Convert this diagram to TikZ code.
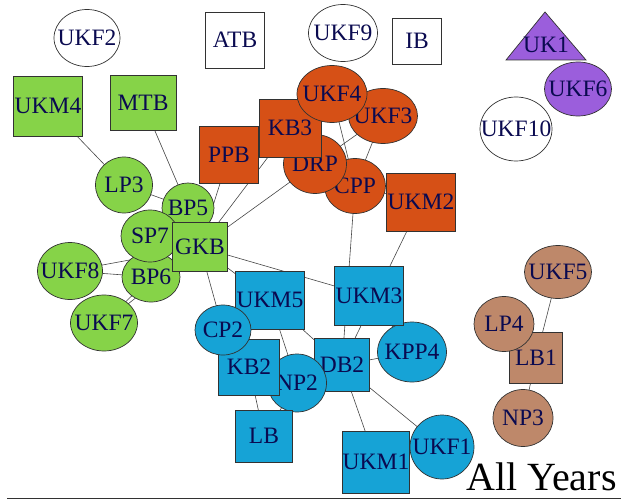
\documentclass[tikz,border=0pt]{standalone}
\usepackage{fontspec}
\setmainfont{Liberation Serif}
\usetikzlibrary{shapes.geometric,backgrounds}
\definecolor{grn}{RGB}{134,211,72}
\definecolor{org}{RGB}{214,80,22}
\definecolor{blu}{RGB}{22,163,214}
\definecolor{brn}{RGB}{190,136,106}
\definecolor{pur}{RGB}{155,94,220}
\definecolor{txt}{RGB}{10,10,80}
\definecolor{bord}{RGB}{50,50,50}
\definecolor{edgc}{RGB}{70,70,70}
\newcommand\lblfont{\fontsize{23.5}{24}\selectfont}
\tikzset{
  every label/.style={font=\lblfont, text=txt, inner sep=0pt},
  nd/.style={draw=bord, line width=0.7pt, inner sep=0pt, outer sep=0pt, label={center:#1}},
  elln/.style={nd=#1, ellipse},
  boxn/.style={nd=#1, rectangle},
  lnk/.style={draw=edgc, line width=0.6pt},
  lbltext/.style={font=\lblfont, text=txt, inner sep=0pt}
}
\newcommand\mkell[5]{\node[elln=#1, fill=#4, minimum width=#2, minimum height=#3] (#1) at (#5) {};}
\newcommand\mkbox[5]{\node[boxn=#1, fill=#4, minimum width=#2, minimum height=#3] (#1) at (#5) {};}
\begin{document}
\begin{tikzpicture}[x=1pt,y=-1pt]
\useasboundingbox (0,0) rectangle (621,500);
% white isolated
\mkell{UKF2}{66}{57}{white}{87,38}
\mkbox{ATB}{59}{56}{white}{235,40}
\mkell{UKF9}{69}{57}{white}{343,33}
\mkbox{IB}{49}{46}{white}{417,41}
\mkell{UKF10}{72}{64}{white}{516,129}
% purple
\path[draw=bord, fill=pur, line width=0.7pt] (506,60) -- (545,12) -- (586,60) -- cycle;
\node[lbltext] (UK1) at (546,45) {UK1};
\mkell{UKF6}{67}{54}{pur}{578,89}
% green
\mkbox{UKM4}{69}{60}{grn}{48,106}
\mkbox{MTB}{66}{55}{grn}{143,103}
\mkell{LP3}{57}{56}{grn}{124,185}
\mkell{BP5}{52}{50}{grn}{188,208}
\mkell{BP6}{58}{50}{grn}{151,277}
\mkell{UKF8}{65}{57}{grn}{70,271}
\mkell{UKF7}{67}{56}{grn}{104,323}
\mkell{SP7}{58}{52}{grn}{150,236}
\mkbox{GKB}{55}{49}{grn}{200,247}
% orange
\mkbox{PPB}{59}{57}{org}{229,155}
\mkell{UKF3}{69}{55}{org}{383,116}
\mkell{CPP}{61}{55}{org}{355,186}
\mkell{DRP}{63}{59}{org}{315,164}
\mkbox{KB3}{62}{58}{org}{290,128}
\mkell{UKF4}{70}{57}{org}{332,94}
\mkbox{UKM2}{69}{58}{org}{421,202}
% blue
\mkbox{UKM5}{69}{58}{blu}{270,300}
\mkbox{DB2}{55}{53}{blu}{342,365}
\mkell{NP2}{59}{58}{blu}{297,383}
\mkbox{KB2}{61}{56}{blu}{249,367}
\mkell{CP2}{56}{50}{blu}{223,330}
\mkbox{LB}{57}{52}{blu}{264,436}
\mkell{KPP4}{69}{60}{blu}{412,352}
\mkbox{UKM3}{69}{59}{blu}{369,296}
\mkbox{UKM1}{67}{62}{blu}{376,462}
\mkell{UKF1}{64}{64}{blu}{442,447}
% brown
\mkell{UKF5}{67}{53}{brn}{558,272}
\mkbox{LB1}{53}{51}{brn}{536,358}
\mkell{LP4}{60}{55}{brn}{504,324}
\mkell{NP3}{60}{57}{brn}{523,418}
% edges
\begin{pgfonlayer}{background}
\foreach \a/\b in {UKM4/LP3, MTB/BP5, LP3/BP5, UKF8/GKB, UKF8/BP6, UKF7/BP6, UKF7/GKB,
  GKB/PPB, GKB/KB3, GKB/DRP, UKF4/CPP, UKF3/DRP, UKF3/CPP, CPP/UKM2, CPP/DB2, UKM2/DB2,
  GKB/UKM3, GKB/UKM5, GKB/CP2, UKM5/NP2, UKM5/DB2, UKM3/KPP4, DB2/KPP4, DB2/UKM1, DB2/UKF1,
  KB2/LB, NP2/LB, UKF5/LB1, LB1/NP3}
  \draw[lnk] (\a.center) -- (\b.center);
\end{pgfonlayer}
% caption and rule
\coordinate (ruleL) at (7,498);
\coordinate (ruleR) at (621,498);
\draw[line width=1pt, draw=bord] (ruleL) -- (ruleR);
\node[anchor=base west, inner sep=0pt, font=\fontsize{40}{40}\selectfont] (title) at (466,490) {All Years};
\end{tikzpicture}
\end{document}
